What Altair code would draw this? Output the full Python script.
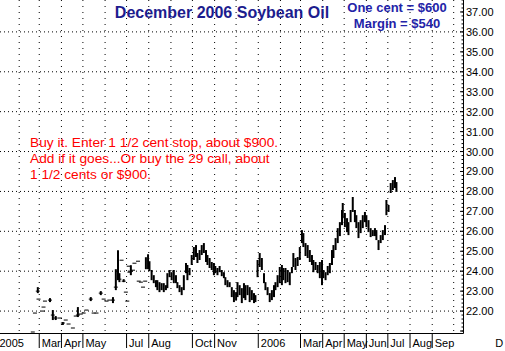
import altair as alt
import pandas as pd

# ---- OHLC-style bars (high / low) ----
BAR_DATES = [
    "2005-02-27", "2005-03-16", "2005-03-20", "2005-03-24", "2005-04-03", "2005-04-24",
    "2005-05-12", "2005-05-26", "2005-06-12", "2005-06-16", "2005-06-19", "2005-06-21",
    "2005-06-27", "2005-07-07",
    "2005-07-28", "2005-07-31", "2005-08-02", "2005-08-05", "2005-08-08", "2005-08-11",
    "2005-08-13", "2005-08-16", "2005-08-19", "2005-08-22", "2005-08-25", "2005-08-27",
    "2005-08-30", "2005-09-02", "2005-09-05", "2005-09-08", "2005-09-10", "2005-09-13",
    "2005-09-16", "2005-09-19", "2005-09-22", "2005-09-24", "2005-09-27", "2005-09-30",
    "2005-10-03", "2005-10-06", "2005-10-08", "2005-10-11", "2005-10-14", "2005-10-17",
    "2005-10-20", "2005-10-22", "2005-10-25", "2005-10-28", "2005-10-31", "2005-11-02",
    "2005-11-05", "2005-11-08", "2005-11-11", "2005-11-14", "2005-11-16", "2005-11-19",
    "2005-11-22", "2005-11-25", "2005-11-28", "2005-12-01", "2005-12-03", "2005-12-06",
    "2005-12-09", "2005-12-12", "2005-12-14", "2005-12-17", "2005-12-20", "2005-12-23",
    "2005-12-26", "2005-12-28", "2005-12-31", "2006-01-03", "2006-01-06", "2006-01-09",
    "2006-01-11", "2006-01-14", "2006-01-17", "2006-01-20", "2006-01-23", "2006-01-25",
    "2006-01-28", "2006-01-31", "2006-02-03", "2006-02-05", "2006-02-08", "2006-02-11",
    "2006-02-14", "2006-02-17", "2006-02-19", "2006-02-22", "2006-02-25", "2006-02-28",
    "2006-03-03", "2006-03-05", "2006-03-08", "2006-03-11", "2006-03-14", "2006-03-17",
    "2006-03-19", "2006-03-22", "2006-03-25", "2006-03-28", "2006-03-31", "2006-04-02",
    "2006-04-05", "2006-04-08", "2006-04-11", "2006-04-14", "2006-04-16", "2006-04-19",
    "2006-04-22", "2006-04-25", "2006-04-28", "2006-04-29", "2006-05-02", "2006-05-05",
    "2006-05-07", "2006-05-10", "2006-05-13", "2006-05-16", "2006-05-18", "2006-05-21",
    "2006-05-24", "2006-05-27", "2006-05-30", "2006-06-01", "2006-06-04", "2006-06-07",
    "2006-06-10", "2006-06-13", "2006-06-15", "2006-06-18", "2006-06-21", "2006-06-24",
    "2006-06-27", "2006-06-29", "2006-07-02", "2006-07-05", "2006-07-08", "2006-07-11",
    "2006-07-13",
]
BAR_HIGH = [
    23.20, 22.65, 22.05, 21.75, 21.45, 22.20,
    22.70, 23.00, 22.70, 24.10, 25.05, 23.90,
    23.60, 24.30,
    24.70, 24.85, 24.50, 24.06, 23.80, 23.55,
    23.55, 23.45, 23.40, 23.40, 23.30, 23.90,
    24.06, 23.95, 24.06, 23.80, 23.45, 23.30,
    23.20, 23.80, 24.41, 24.31, 24.16, 24.81,
    25.21, 25.31, 24.91, 25.06, 25.31, 25.41,
    25.06, 24.81, 24.66, 24.46, 24.41, 24.26,
    24.16, 24.26, 24.06, 23.95, 23.70, 23.55,
    23.45, 23.20, 23.05, 22.95, 23.45, 23.30,
    23.15, 23.40, 23.30, 23.30, 23.20, 23.05,
    22.90, 22.80, 24.56, 24.91, 24.66, 23.90,
    23.45, 23.20, 22.90, 23.05, 23.30, 23.45,
    23.80, 24.21, 24.31, 24.16, 24.16, 24.06,
    23.95, 24.21, 24.91, 24.66, 24.71, 25.21,
    26.06, 25.91, 25.41, 25.31, 25.06, 24.81,
    24.56, 24.46, 24.31, 24.46, 24.56, 24.06,
    23.95, 24.26, 24.41, 25.06, 25.31, 25.66,
    26.16, 26.46, 27.07, 27.42, 26.92, 26.66,
    26.46, 27.07, 27.72, 27.07, 26.81, 26.46,
    26.56, 26.81, 26.97, 26.81, 26.56, 26.16,
    26.06, 26.16, 26.06, 25.56, 25.81, 26.06,
    26.31, 27.57, 27.32, 28.42, 28.57, 28.72,
    28.47,
]
BAR_LOW = [
    22.90, 22.45, 21.55, 21.55, 21.30, 21.70,
    22.50, 22.80, 22.40, 23.05, 23.55, 23.45,
    23.45, 23.80,
    24.10, 24.10, 24.00, 23.55, 23.40, 23.20,
    23.05, 22.95, 23.05, 22.95, 23.05, 23.15,
    23.70, 23.55, 23.40, 23.40, 23.15, 22.95,
    22.80, 23.05, 23.90, 23.55, 23.80, 24.31,
    24.56, 24.71, 24.41, 24.56, 24.81, 24.91,
    24.46, 24.31, 24.16, 24.06, 23.80, 23.90,
    23.80, 23.95, 23.75, 23.65, 23.30, 23.20,
    23.20, 22.70, 22.45, 22.55, 22.70, 22.80,
    22.40, 22.65, 22.55, 22.80, 22.45, 22.55,
    22.40, 22.45, 23.70, 24.21, 24.06, 23.40,
    23.05, 22.80, 22.45, 22.55, 22.70, 23.05,
    23.20, 23.40, 23.30, 23.55, 23.40, 23.45,
    23.30, 23.90, 24.21, 24.06, 24.26, 24.56,
    25.41, 25.21, 24.76, 24.66, 24.46, 24.31,
    23.95, 24.06, 23.90, 23.65, 23.30, 23.65,
    23.55, 23.80, 23.90, 24.31, 24.66, 25.06,
    25.41, 25.76, 26.31, 26.66, 26.21, 25.96,
    25.81, 26.46, 26.97, 26.46, 26.16, 25.66,
    25.91, 26.16, 26.46, 26.21, 25.96, 25.71,
    25.76, 25.76, 25.56, 25.06, 25.41, 25.56,
    25.81, 26.81, 26.97, 27.92, 28.07, 28.17,
    27.97,
]

# ---- single-price trades / open-close dashes of the thin early months ----
DASH_DATES = [
    "2005-02-20", "2005-02-23", "2005-02-27", "2005-02-28", "2005-03-06", "2005-03-07",
    "2005-03-09", "2005-03-16", "2005-03-20", "2005-03-24", "2005-03-30", "2005-04-03",
    "2005-04-07", "2005-04-11", "2005-04-17", "2005-04-21", "2005-04-24", "2005-04-28",
    "2005-05-02", "2005-05-06", "2005-05-12", "2005-05-16", "2005-05-20", "2005-05-26",
    "2005-05-30", "2005-06-03", "2005-06-07", "2005-06-12", "2005-06-16", "2005-06-21",
    "2005-06-24", "2005-06-27", "2005-06-30", "2005-07-02", "2005-07-04", "2005-07-05",
    "2005-07-07", "2005-07-10", "2005-07-12", "2005-07-17", "2005-07-18", "2005-07-21",
    "2005-07-24", "2005-07-27",
]
DASH_PRICE = [
    20.95, 21.90, 23.00, 22.60, 22.00, 22.20,
    22.50, 22.55, 21.80, 21.65, 21.65, 21.40,
    21.55, 21.35, 21.15, 21.75, 21.80, 21.85,
    21.90, 22.05, 22.60, 21.90, 21.90, 22.90,
    22.60, 22.50, 22.55, 22.55, 23.20, 23.60,
    24.55, 23.50, 22.95, 22.50, 24.25, 23.95,
    24.00, 24.05, 24.40, 24.50, 23.50, 23.45,
    23.20, 23.50,
]

# ---- axes / labels ----
Y_LABELS = list(range(22, 38))
GRID_PRICES = [22, 24, 26, 28, 30, 32, 34, 36]
MAJOR_TICKS = list(range(21, 38))
MINOR_TICKS = [round(21 + 0.2 * i, 1) for i in range(84)]
MONTH_LINES = [
    "2005-02-01", "2005-03-01", "2005-04-01", "2005-05-01", "2005-06-01", "2005-07-01",
    "2005-08-01", "2005-09-01", "2005-10-01", "2005-11-01", "2005-12-01", "2006-01-01",
    "2006-02-01", "2006-03-01", "2006-04-01", "2006-05-01", "2006-06-01", "2006-07-01",
    "2006-08-01", "2006-09-01", "2006-10-01",
]
TICK_MONTHS = [
    "2005-03-01", "2005-04-01", "2005-05-01", "2005-07-01", "2005-08-01", "2005-10-01",
    "2005-11-01", "2006-01-01", "2006-03-01", "2006-04-01", "2006-05-01", "2006-06-01",
    "2006-07-01", "2006-08-01", "2006-09-01",
]
X_LABEL_DATES = ["2005-01-01"] + TICK_MONTHS
X_LABELS = ["2005", "Mar", "Apr", "May", "Jul", "Aug", "Oct", "Nov", "2006",
            "Mar", "Apr", "May", "Jun", "Jul", "Aug", "Sep"]
END_LABEL_DATE = ["2006-12-01"]
END_LABEL = ["D"]

TITLE = "December 2006 Soybean Oil"
NOTE_RIGHT = ["One cent = $600", "Margin = $540"]
NOTE_RED = ["Buy it. Enter 1 1/2 cent stop, about $900.",
            "Add if it goes...Or buy the 29 call, about",
            "1 1/2 cents or $900."]

FONT = "Liberation Sans"
W, H = 463, 333

XS = alt.Scale(type="utc", domain=[
    alt.DateTime(year=2005, month=1, date=5, hours=4, minutes=30, utc=True),
    alt.DateTime(year=2006, month=10, date=14, utc=True)])
YS = alt.Scale(domain=[20.9, 37.6], nice=False, zero=False)

bars = pd.DataFrame({"date": BAR_DATES, "high": BAR_HIGH, "low": BAR_LOW})
dashes = pd.DataFrame({"date": DASH_DATES, "price": DASH_PRICE})
one = pd.DataFrame({"k": [0]})

hgrid = alt.Chart(pd.DataFrame({"price": GRID_PRICES})).mark_rule(
    color="black", strokeDash=[1, 3], strokeWidth=1).encode(
    y=alt.Y("price:Q", scale=YS, axis=None), x=alt.value(0), x2=alt.value(W))

vgrid = alt.Chart(pd.DataFrame({"date": MONTH_LINES})).mark_rule(
    color="black", strokeDash=[1, 5], strokeWidth=1).encode(
    x=alt.X("date:T", scale=XS, axis=None), y=alt.value(0), y2=alt.value(H))

bar_layer = alt.Chart(bars).mark_rule(color="black", strokeWidth=2).encode(
    x=alt.X("date:T", scale=XS, axis=None),
    y=alt.Y("low:Q", scale=YS, axis=None),
    y2="high:Q")

dash_layer = alt.Chart(dashes).mark_rule(color="black", strokeWidth=1,
                                         xOffset=-2, x2Offset=2).encode(
    x=alt.X("date:T", scale=XS, axis=None), x2="date:T",
    y=alt.Y("price:Q", scale=YS, axis=None))

# axis lines (bottom and right), placed on pixel centres for a crisp 1px line
x_domain = alt.Chart(one).mark_rule(color="black", strokeWidth=1).encode(
    x=alt.value(0), x2=alt.value(W + 0.5), y=alt.value(H + 0.5))
y_domain = alt.Chart(one).mark_rule(color="black", strokeWidth=1).encode(
    x=alt.value(W + 0.5), y=alt.value(0), y2=alt.value(H + 0.5))

major = alt.Chart(pd.DataFrame({"v": MAJOR_TICKS})).mark_rule(color="black").encode(
    y=alt.Y("v:Q", scale=YS, axis=None), x=alt.value(W - 3), x2=alt.value(W))
minor = alt.Chart(pd.DataFrame({"v": MINOR_TICKS})).mark_rule(color="black").encode(
    y=alt.Y("v:Q", scale=YS, axis=None), x=alt.value(W - 1.5), x2=alt.value(W))

ylabels = alt.Chart(pd.DataFrame({"v": Y_LABELS})).mark_text(
    align="left", baseline="middle", font=FONT, fontSize=11, color="black", dy=1).encode(
    y=alt.Y("v:Q", scale=YS, axis=None), x=alt.value(W + 3),
    text=alt.Text("v:Q", format=".2f"))

xticks = alt.Chart(pd.DataFrame({"date": TICK_MONTHS})).mark_rule(color="black").encode(
    x=alt.X("date:T", scale=XS, axis=None), y=alt.value(H + 1), y2=alt.value(H + 15))

xlabels = alt.Chart(pd.DataFrame({"date": X_LABEL_DATES, "label": X_LABELS})).mark_text(
    align="left", baseline="alphabetic", dx=2.5, font=FONT, fontSize=11, color="black").encode(
    x=alt.X("date:T", scale=XS, axis=None), y=alt.value(H + 14), text="label:N")

endlabel = alt.Chart(pd.DataFrame({"date": END_LABEL_DATE, "label": END_LABEL})).mark_text(
    align="left", baseline="alphabetic", dx=-2, font=FONT, fontSize=11, color="black").encode(
    x=alt.X("date:T", scale=XS, axis=None), y=alt.value(H + 14), text="label:N")

title = alt.Chart(one).mark_text(
    text=TITLE, font=FONT, fontSize=16, fontWeight="bold", color="#1c1c8e",
    align="center", baseline="alphabetic").encode(x=alt.value(222), y=alt.value(18))

note_right = alt.Chart(one).mark_text(
    text=NOTE_RIGHT, font=FONT, fontSize=13, fontWeight="bold", color="#2323a8",
    align="center", baseline="alphabetic", lineHeight=16).encode(
    x=alt.value(397), y=alt.value(12))

note_red = alt.Chart(one).mark_text(
    text=NOTE_RED, font=FONT, fontSize=13.7, color="#ff0000",
    align="left", baseline="alphabetic", lineHeight=16).encode(
    x=alt.value(30), y=alt.value(146.5))

chart = alt.layer(
    hgrid, vgrid, bar_layer, dash_layer, x_domain, y_domain, major, minor, ylabels,
    xticks, xlabels, endlabel, title, note_right, note_red
).properties(
    width=W, height=H,
    autosize=alt.AutoSizeParams(type="none"),
    padding={"left": 0, "top": 0, "right": 42, "bottom": 18},
    background="white",
).configure_view(strokeWidth=0)

chart.save("out.html", embed_options={"renderer": "svg", "actions": False})
